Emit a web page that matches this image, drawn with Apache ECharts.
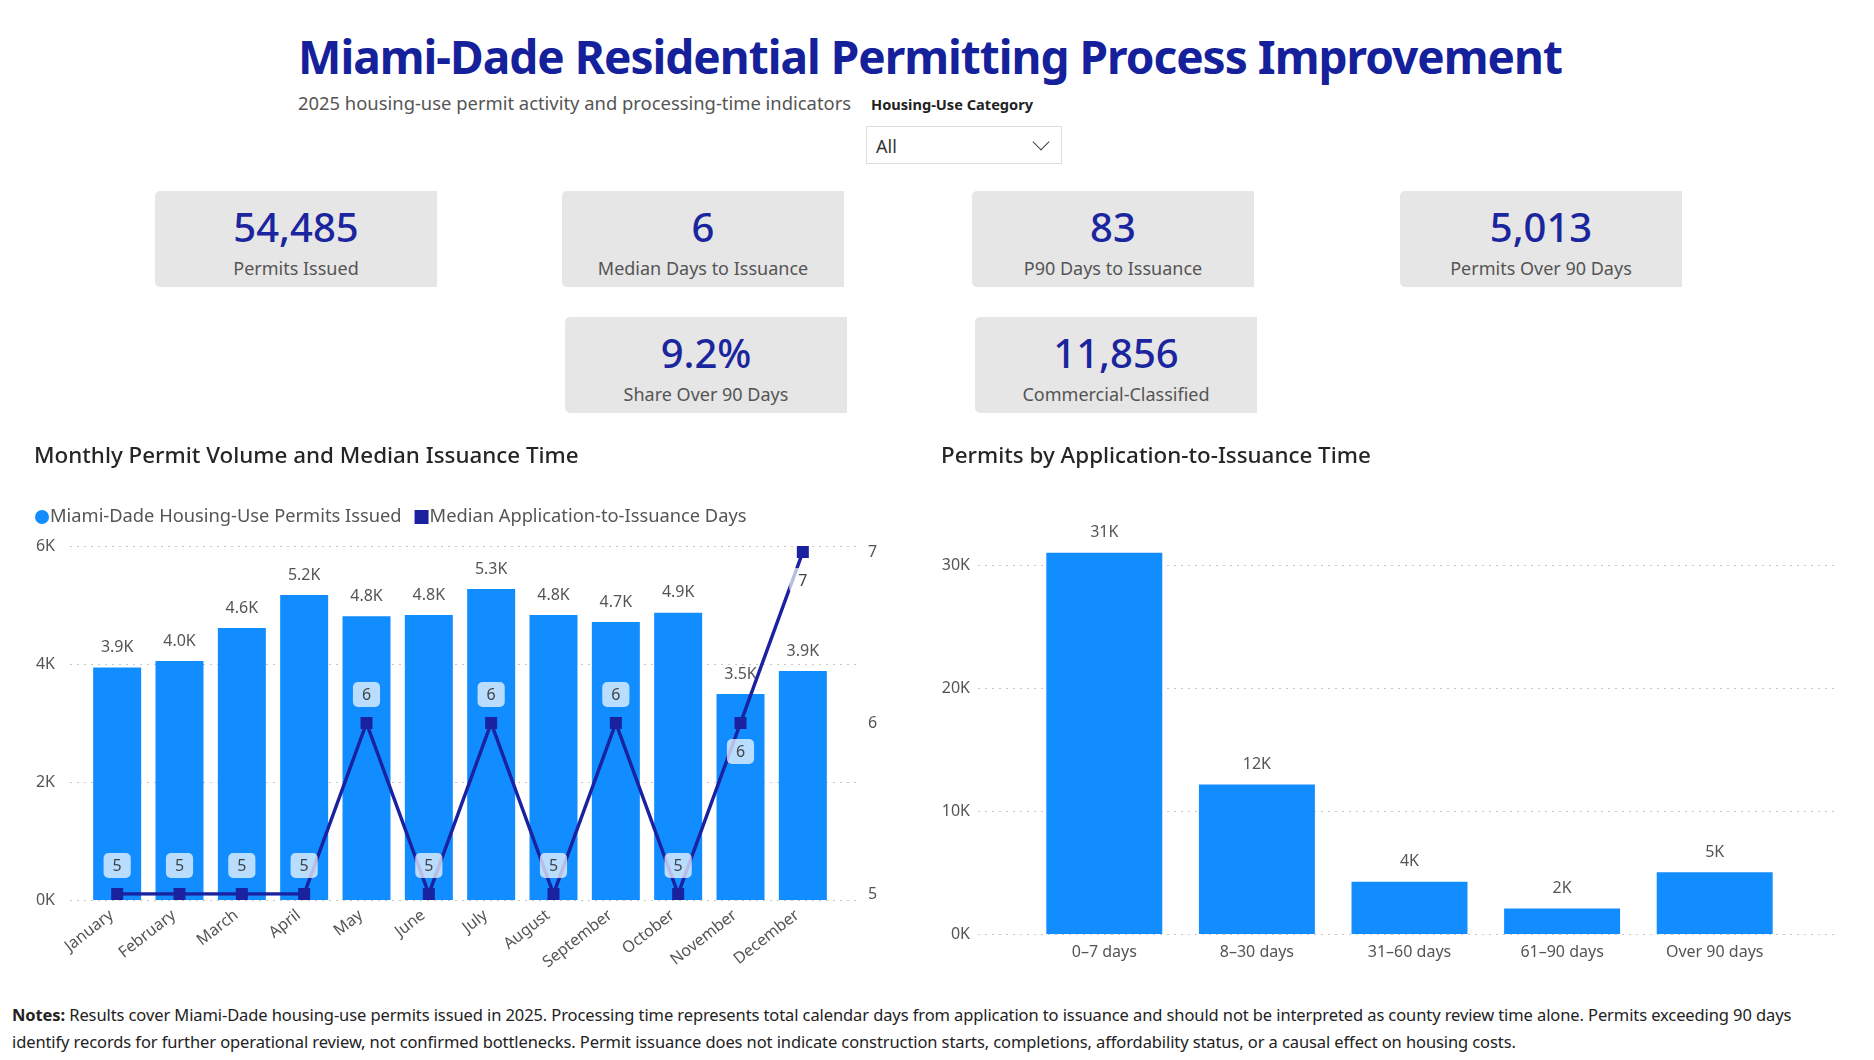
<!DOCTYPE html>
<html>
<head>
<meta charset="utf-8">
<script src="https://cdn.jsdelivr.net/npm/echarts@6/dist/echarts.min.js"></script>
<style>
body{margin:0;width:1874px;height:1060px;background:#fff;font-family:"Noto Sans",sans-serif;position:relative;overflow:hidden}
.title{position:absolute;left:0;width:1860px;top:23px;text-align:center;font-size:46px;letter-spacing:-1px;font-weight:700;color:#15209b;line-height:66px}
.sub{position:absolute;left:298px;top:90px;font-size:18.4px;color:#555;line-height:26px}
.slicer-lbl{position:absolute;left:871px;top:94px;font-size:14.6px;font-weight:700;color:#222;line-height:20px}
.dd{position:absolute;left:866px;top:126px;width:194px;height:36px;border:1px solid #ddd;background:#fff}
.dd span{position:absolute;left:9px;top:7px;font-size:18px;color:#333;line-height:24px}
.dd i{position:absolute;right:14px;top:9px;width:11px;height:11px;border-right:1.5px solid #444;border-bottom:1.5px solid #444;transform:rotate(45deg)}
.card{position:absolute;width:282px;height:96px;background:#e6e6e6;border-radius:5px 0 0 5px;text-align:center}
.card .v{position:absolute;left:0;right:0;top:9px;font-size:40px;font-weight:500;color:#1a259e;line-height:54px}
.card .l{position:absolute;left:0;right:0;top:64px;font-size:18px;color:#555;line-height:26px}
#chart{position:absolute;left:0;top:430px;width:1874px;height:560px}
.notes{position:absolute;left:12px;top:1001px;width:1840px;font-size:16.5px;letter-spacing:-0.1px;color:#222;line-height:27px}
</style>
</head>
<body>
<div class="title">Miami-Dade Residential Permitting Process Improvement</div>
<div class="sub">2025 housing-use permit activity and processing-time indicators</div>
<div class="slicer-lbl">Housing-Use Category</div>
<div class="dd"><span>All</span><i></i></div>

<div class="card" style="left:155px;top:191px"><div class="v">54,485</div><div class="l">Permits Issued</div></div>
<div class="card" style="left:562px;top:191px"><div class="v">6</div><div class="l">Median Days to Issuance</div></div>
<div class="card" style="left:972px;top:191px"><div class="v">83</div><div class="l">P90 Days to Issuance</div></div>
<div class="card" style="left:1400px;top:191px"><div class="v">5,013</div><div class="l">Permits Over 90 Days</div></div>
<div class="card" style="left:565px;top:317px"><div class="v">9.2%</div><div class="l">Share Over 90 Days</div></div>
<div class="card" style="left:975px;top:317px"><div class="v">11,856</div><div class="l">Commercial-Classified</div></div>

<div id="chart"></div>

<div class="notes"><b>Notes:</b> Results cover Miami-Dade housing-use permits issued in 2025. Processing time represents total calendar days from application to issuance and should not be interpreted as county review time alone. Permits exceeding 90 days identify records for further operational review, not confirmed bottlenecks. Permit issuance does not indicate construction starts, completions, affordability status, or a causal effect on housing costs.</div>

<script>
// monthly data
var months = ['January', 'February', 'March', 'April', 'May', 'June', 'July', 'August', 'September', 'October', 'November', 'December'];
var permitsIssued = [3940, 4050, 4610, 5170, 4810, 4830, 5270, 4830, 4710, 4870, 3490, 3880];
var medianDays = [5, 5, 5, 5, 6, 5, 6, 5, 6, 5, 6, 7];
var leftTicks = [0, 2000, 4000, 6000];
var rightTicks = [5, 6, 7];

// time buckets
var buckets = ['0–7 days', '8–30 days', '31–60 days', '61–90 days', 'Over 90 days'];
var bucketPermits = [31000, 12150, 4250, 2072, 5013];
var bucketTicks = [0, 10000, 20000, 30000];

var chart = echarts.init(document.getElementById('chart'));
var barBlue = '#118dff';
var navy = '#1a22a0';
var txt = '#555';
var fam = 'Noto Sans';

var lineData = [];
for (var i = 0; i < medianDays.length; i++) {
	lineData.push({
		value: medianDays[i],
		label: { position: i >= 10 ? 'bottom' : 'top' }
	});
}

var dotted = { show: true, lineStyle: { type: [2, 5], color: '#c8c8c8', width: 1 } };
var kFmt = function (v) { return v / 1000 + 'K'; };

var option = {
	textStyle: { fontFamily: fam },
	title: [
		{ text: 'Monthly Permit Volume and Median Issuance Time', left: 29, top: 11,
			textStyle: { fontSize: 22.4, fontWeight: 500, color: '#252525', fontFamily: fam } },
		{ text: 'Permits by Application-to-Issuance Time', left: 936, top: 11,
			textStyle: { fontSize: 22.4, fontWeight: 500, color: '#252525', fontFamily: fam } }
	],
	legend: {
		left: 30, top: 73, itemGap: 13, itemWidth: 14, itemHeight: 14,
		textStyle: { fontSize: 18.3, color: txt, padding: [0, 0, 0, -4] },
		data: [
			{ name: 'Miami-Dade Housing-Use Permits Issued', icon: 'circle' },
			{ name: 'Median Application-to-Issuance Days', icon: 'rect' }
		]
	},
	grid: [
		{ left: 86, width: 748, top: 116, height: 354 },
		{ left: 86, width: 748, top: 122, height: 342 },
		{ left: 1028, width: 763, top: 135, height: 369 },
		// wider background grids that only carry the dotted gridlines
		{ left: 70, width: 790, top: 116, height: 354 },
		{ left: 978, width: 858, top: 135, height: 369 }
	],
	xAxis: [
		{ type: 'category', gridIndex: 0, data: months,
			axisLine: { show: false }, axisTick: { show: false },
			axisLabel: { rotate: 38, fontSize: 16, color: txt, margin: 9, interval: 0, padding: [0, 7, 0, 0] } },
		{ type: 'category', gridIndex: 1, data: months, show: false },
		{ type: 'category', gridIndex: 2, data: buckets,
			axisLine: { show: false }, axisTick: { show: false },
			axisLabel: { fontSize: 16, color: txt, margin: 10, interval: 0 } },
		{ type: 'category', gridIndex: 3, data: months, show: false },
		{ type: 'category', gridIndex: 4, data: buckets, show: false }
	],
	yAxis: [
		{ type: 'value', gridIndex: 0, min: leftTicks[0], max: leftTicks[leftTicks.length - 1], interval: 2000,
			axisLabel: { fontSize: 16, color: txt, margin: 31, formatter: kFmt },
			splitLine: { show: false } },
		{ type: 'value', gridIndex: 1, position: 'right', min: rightTicks[0], max: rightTicks[rightTicks.length - 1], interval: 1,
			axisLabel: { fontSize: 16, color: txt, margin: 34 },
			splitLine: { show: false } },
		{ type: 'value', gridIndex: 2, min: bucketTicks[0], max: bucketTicks[bucketTicks.length - 1], interval: 10000,
			axisLabel: { fontSize: 16, color: txt, margin: 58, formatter: kFmt },
			splitLine: { show: false } },
		{ type: 'value', gridIndex: 3, min: leftTicks[0], max: leftTicks[leftTicks.length - 1], interval: 2000,
			axisLabel: { show: false }, splitLine: dotted },
		{ type: 'value', gridIndex: 4, min: bucketTicks[0], max: bucketTicks[bucketTicks.length - 1], interval: 10000,
			axisLabel: { show: false }, splitLine: dotted }
	],
	series: [
		{
			name: 'Miami-Dade Housing-Use Permits Issued',
			type: 'bar', xAxisIndex: 0, yAxisIndex: 0,
			barCategoryGap: '23%',
			itemStyle: { color: barBlue },
			label: { show: true, position: 'top', distance: 12, fontSize: 16, color: txt,
				formatter: function (p) { return (p.value / 1000).toFixed(1) + 'K'; } },
			data: permitsIssued
		},
		{
			name: 'Median Application-to-Issuance Days',
			type: 'line', xAxisIndex: 1, yAxisIndex: 1,
			symbol: 'rect', symbolSize: 12,
			itemStyle: { color: navy },
			lineStyle: { color: navy, width: 3.5 },
			z: 5,
			label: { show: true, distance: 10, fontSize: 16, color: '#444',
				backgroundColor: 'rgba(255,255,255,0.7)', borderRadius: 5, padding: [5, 9, 4, 9] },
			data: lineData
		},
		{
			type: 'bar', xAxisIndex: 2, yAxisIndex: 2,
			barCategoryGap: '24%', clip: false,
			itemStyle: { color: barBlue },
			label: { show: true, position: 'top', distance: 12, fontSize: 16, color: txt,
				formatter: function (p) { return Math.round(p.value / 1000) + 'K'; } },
			data: bucketPermits
		}
	]
};
chart.setOption(option);
</script>
</body>
</html>
